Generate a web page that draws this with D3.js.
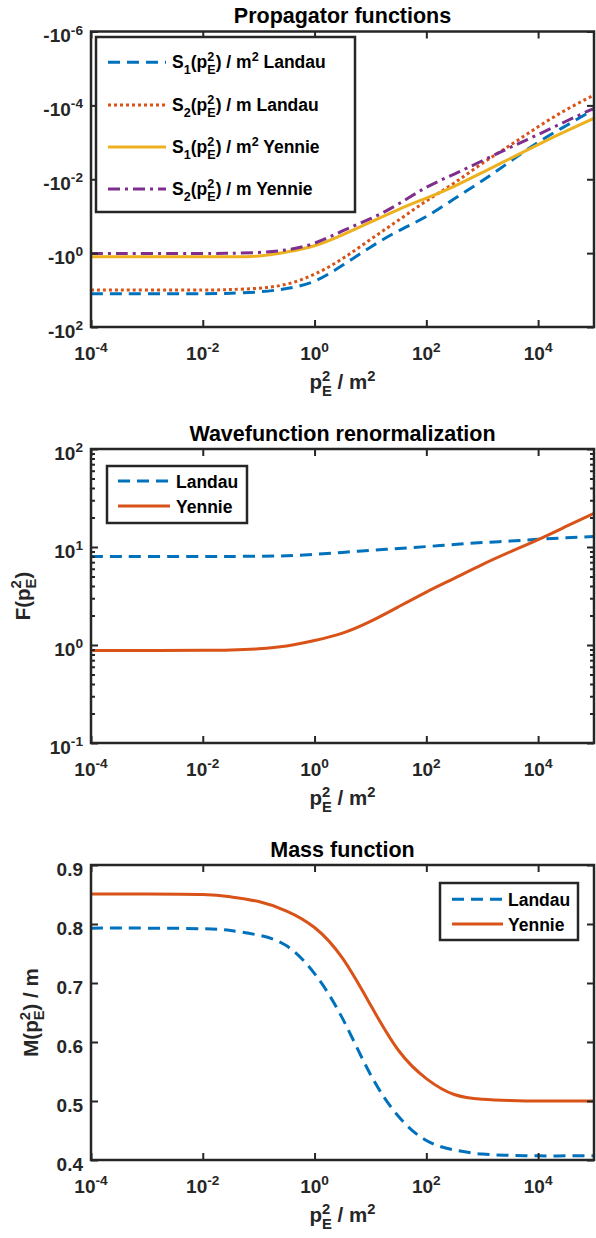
<!DOCTYPE html>
<html>
<head>
<meta charset="utf-8">
<script src="https://cdn.jsdelivr.net/npm/d3@7"></script>
<style>
body { margin: 0; background: #fff; }
text { font-family: "Liberation Sans", Arial, Helvetica, sans-serif; font-weight: bold; white-space: pre; }
</style>
</head>
<body>
<svg id="chart" width="596" height="1238"></svg>
<script>
// x grid, p_E^2 / m^2 (half decades)
var pE2 = [1e-4, 1e-3, 1e-2, 0.0316, 0.1, 0.316, 1, 3.16, 10, 31.6, 100, 316, 1000, 3162, 1e4, 31623, 1e5];

// propagator functions (negative values)
var s1Landau = [-12.6, -12.6, -12.6, -12.2, -11.2, -9.12, -5.75, -2.14, -0.692, -0.251, -0.102, -0.0339, -0.011, -0.00331, -0.001, -3.55e-4, -1.29e-4];
var s2Landau = [-10.0, -10.0, -10.0, -9.66, -8.91, -6.92, -3.72, -1.41, -0.427, -0.129, -0.0389, -0.0126, -0.00372, -0.0012, -3.8e-4, -1.32e-4, -5.25e-5];
var s1Yennie = [-1.26, -1.26, -1.26, -1.26, -1.20, -0.933, -0.631, -0.32, -0.145, -0.066, -0.0324, -0.0155, -0.0066, -0.00275, -0.00115, -5.0e-4, -2.24e-4];
var s2Yennie = [-1.02, -1.02, -1.02, -1.01, -0.955, -0.813, -0.537, -0.251, -0.117, -0.0468, -0.0166, -0.00724, -0.00316, -0.00138, -6.17e-4, -2.69e-4, -1.2e-4];

// wavefunction renormalization
var fLandau = [8.02, 8.02, 8.02, 8.02, 8.04, 8.15, 8.41, 8.81, 9.23, 9.66, 10.1, 10.6, 11.1, 11.5, 12.0, 12.4, 12.8];
var fYennie = [0.88, 0.88, 0.882, 0.891, 0.916, 0.977, 1.11, 1.32, 1.74, 2.45, 3.47, 4.79, 6.61, 8.91, 11.9, 16.2, 22.1];

// mass function
var mLandau = [0.793, 0.793, 0.792, 0.789, 0.781, 0.763, 0.716, 0.640, 0.545, 0.474, 0.433, 0.417, 0.410, 0.408, 0.407, 0.407, 0.407];
var mYennie = [0.851, 0.851, 0.850, 0.846, 0.838, 0.822, 0.794, 0.742, 0.663, 0.586, 0.538, 0.511, 0.503, 0.501, 0.500, 0.500, 0.500];

// ticks
var xTicks = [1e-4, 1e-2, 1, 1e2, 1e4];
var xTickExp = ["-4", "-2", "0", "2", "4"];
var sTicks = [-1e-6, -1e-4, -1e-2, -1, -1e2];
var sTickExp = ["-6", "-4", "-2", "0", "2"];
var fTicks = [0.1, 1, 10, 100];
var fTickExp = ["-1", "0", "1", "2"];
var fMinor = [0.2, 0.3, 0.4, 0.5, 0.6, 0.7, 0.8, 0.9, 2, 3, 4, 5, 6, 7, 8, 9, 20, 30, 40, 50, 60, 70, 80, 90];
var mTicks = [0.4, 0.5, 0.6, 0.7, 0.8, 0.9];
var mTickLabels = ["0.4", "0.5", "0.6", "0.7", "0.8", "0.9"];

var blue = "#0072BD", orange = "#D95319", yellow = "#EDB120", purple = "#7E2F8E";
var axisColor = "#262626";

var svg = d3.select("#chart");
var left = 91, right = 594;
var tickFs = 19, titleFs = 21.5, labelFs = 20.5, legendFs = 17.5;

// draws text with sub/superscripts, returns group and width
var richText = function(parent, parts, fs) {
  var g = parent.append("g");
  var cx = 0;
  parts.forEach(function(p) {
    if (typeof p === "string") {
      var t = g.append("text").attr("x", cx).attr("y", 0).style("font-size", fs + "px").text(p);
      cx += t.node().getComputedTextLength();
    } else {
      var w = 0, small = fs * 0.72;
      if (p.sup != null) {
        var ts = g.append("text").attr("x", cx).attr("y", -fs * 0.4).style("font-size", small + "px").text(p.sup);
        w = Math.max(w, ts.node().getComputedTextLength());
      }
      if (p.sub != null) {
        var tb = g.append("text").attr("x", cx).attr("y", fs * 0.33).style("font-size", small + "px").text(p.sub);
        w = Math.max(w, tb.node().getComputedTextLength());
      }
      cx += w;
    }
  });
  return { g: g, width: cx };
};

var placeText = function(parent, parts, fs, x, y, anchor, color, rotate) {
  var outer = parent.append("g").attr("fill", color);
  var r = richText(outer, parts, fs);
  var dx = anchor === "middle" ? -r.width / 2 : anchor === "end" ? -r.width : 0;
  r.g.attr("transform", "translate(" + dx + ",0)");
  outer.attr("transform", "translate(" + x + "," + y + ")" + (rotate ? " rotate(" + rotate + ")" : ""));
  return outer;
};

var panelId = 0;
var drawPanel = function(cfg) {
  panelId++;
  var x = d3.scaleLog().domain([1e-4, 1e5]).range([left, right]);
  var y = cfg.y;
  var top = cfg.top, bottom = cfg.bottom;
  var g = svg.append("g");

  g.append("clipPath").attr("id", "clip" + panelId)
    .append("rect").attr("x", left).attr("y", top).attr("width", right - left).attr("height", bottom - top);

  // title
  g.append("text").attr("x", (left + right) / 2).attr("y", top - 8.5)
    .attr("text-anchor", "middle").style("font-size", titleFs + "px").attr("fill", "#000")
    .text(cfg.title);

  // curves
  var line = d3.line()
    .x(function(d) { return x(d[0]); })
    .y(function(d) { return y(d[1]); })
    .curve(d3.curveNatural);
  var lines = g.append("g").attr("clip-path", "url(#clip" + panelId + ")");
  cfg.series.forEach(function(s) {
    lines.append("path")
      .datum(pE2.map(function(v, i) { return [v, s.values[i]]; }))
      .attr("d", line)
      .attr("fill", "none")
      .attr("stroke", s.color)
      .attr("stroke-width", 3)
      .attr("stroke-dasharray", s.dash || null);
  });

  // ticks on all four sides
  var tickStyle = function(sel) {
    sel.select(".domain").remove();
    sel.selectAll(".tick line").attr("stroke", axisColor).attr("stroke-width", 2);
  };
  g.append("g").attr("transform", "translate(0," + bottom + ")")
    .call(d3.axisBottom(x).tickValues(xTicks).tickSizeInner(-7).tickSizeOuter(0).tickFormat("")).call(tickStyle);
  g.append("g").attr("transform", "translate(0," + top + ")")
    .call(d3.axisTop(x).tickValues(xTicks).tickSizeInner(-7).tickSizeOuter(0).tickFormat("")).call(tickStyle);
  g.append("g").attr("transform", "translate(" + left + ",0)")
    .call(d3.axisLeft(y).tickValues(cfg.yTicks).tickSizeInner(-7).tickSizeOuter(0).tickFormat("")).call(tickStyle);
  g.append("g").attr("transform", "translate(" + right + ",0)")
    .call(d3.axisRight(y).tickValues(cfg.yTicks).tickSizeInner(-7).tickSizeOuter(0).tickFormat("")).call(tickStyle);
  if (cfg.yMinor) {
    g.append("g").attr("transform", "translate(" + left + ",0)")
      .call(d3.axisLeft(y).tickValues(cfg.yMinor).tickSizeInner(-4).tickSizeOuter(0).tickFormat("")).call(tickStyle);
    g.append("g").attr("transform", "translate(" + right + ",0)")
      .call(d3.axisRight(y).tickValues(cfg.yMinor).tickSizeInner(-4).tickSizeOuter(0).tickFormat("")).call(tickStyle);
  }

  // box
  g.append("rect").attr("x", left).attr("y", top).attr("width", right - left).attr("height", bottom - top)
    .attr("fill", "none").attr("stroke", axisColor).attr("stroke-width", 2.5);

  // tick labels
  xTicks.forEach(function(v, i) {
    placeText(g, ["10", { sup: xTickExp[i] }], tickFs, x(v), bottom + 33, "middle", axisColor);
  });
  cfg.yTicks.forEach(function(v, i) {
    placeText(g, cfg.yLabel(i), tickFs, left - 8, y(v) + 10.7, "end", axisColor);
  });

  // axis labels
  placeText(g, ["p", { sup: "2", sub: "E" }, " / m", { sup: "2" }], labelFs, (left + right) / 2, bottom + 62, "middle", axisColor);
  if (cfg.ylab) {
    placeText(g, cfg.ylab.parts, labelFs, cfg.ylab.x, (top + bottom) / 2, "middle", axisColor, -90);
  }

  // legend
  var L = cfg.legend;
  var lg = g.append("g");
  lg.append("rect").attr("x", L.x0).attr("y", L.y0).attr("width", L.x1 - L.x0).attr("height", L.y1 - L.y0)
    .attr("fill", "#fff").attr("stroke", axisColor).attr("stroke-width", 2.5);
  cfg.series.forEach(function(s, i) {
    var ly = L.rows[i];
    lg.append("line").attr("x1", L.lx0).attr("x2", L.lx1).attr("y1", ly).attr("y2", ly)
      .attr("stroke", s.color).attr("stroke-width", 3).attr("stroke-dasharray", s.dash || null);
    placeText(lg, s.label, legendFs, L.tx, ly + L.dy, "start", "#000");
  });
};

var dash = "12,7", dot = "3,3", dashDot = "12,5,3,5";

drawPanel({
  title: "Propagator functions",
  top: 31.5, bottom: 327,
  y: d3.scaleLog().domain([-1e-6, -1e2]).range([31.5, 327]),
  yTicks: sTicks,
  yLabel: function(i) { return ["-10", { sup: sTickExp[i] }]; },
  series: [
    { values: s1Landau, color: blue, dash: dash, label: ["S", { sub: "1" }, "(p", { sup: "2", sub: "E" }, ") / m", { sup: "2" }, " Landau"] },
    { values: s2Landau, color: orange, dash: dot, label: ["S", { sub: "2" }, "(p", { sup: "2", sub: "E" }, ") / m Landau"] },
    { values: s1Yennie, color: yellow, label: ["S", { sub: "1" }, "(p", { sup: "2", sub: "E" }, ") / m", { sup: "2" }, " Yennie"] },
    { values: s2Yennie, color: purple, dash: dashDot, label: ["S", { sub: "2" }, "(p", { sup: "2", sub: "E" }, ") / m Yennie"] }
  ],
  legend: { x0: 96, x1: 355, y0: 37, y1: 212, lx0: 108, lx1: 166, tx: 172, dy: 6, rows: [62.3, 105, 147, 189] }
});

drawPanel({
  title: "Wavefunction renormalization",
  top: 449, bottom: 743,
  y: d3.scaleLog().domain([0.1, 100]).range([743, 449]),
  yTicks: fTicks,
  yMinor: fMinor,
  yLabel: function(i) { return ["10", { sup: fTickExp[i] }]; },
  ylab: { parts: ["F(p", { sup: "2", sub: "E" }, ")"], x: 29.5 },
  series: [
    { values: fLandau, color: blue, dash: dash, label: ["Landau"] },
    { values: fYennie, color: orange, label: ["Yennie"] }
  ],
  legend: { x0: 107, x1: 247, y0: 466, y1: 523, lx0: 118, lx1: 170, tx: 176, dy: 7, rows: [481, 506] }
});

drawPanel({
  title: "Mass function",
  top: 865, bottom: 1160,
  y: d3.scaleLinear().domain([0.4, 0.9]).range([1160, 865]),
  yTicks: mTicks,
  yLabel: function(i) { return [mTickLabels[i]]; },
  ylab: { parts: ["M(p", { sup: "2", sub: "E" }, ") / m"], x: 37.7 },
  series: [
    { values: mLandau, color: blue, dash: dash, label: ["Landau"] },
    { values: mYennie, color: orange, label: ["Yennie"] }
  ],
  legend: { x0: 440, x1: 578, y0: 883, y1: 940, lx0: 452, lx1: 503, tx: 508, dy: 7, rows: [899.3, 924] }
});
</script>
</body>
</html>
